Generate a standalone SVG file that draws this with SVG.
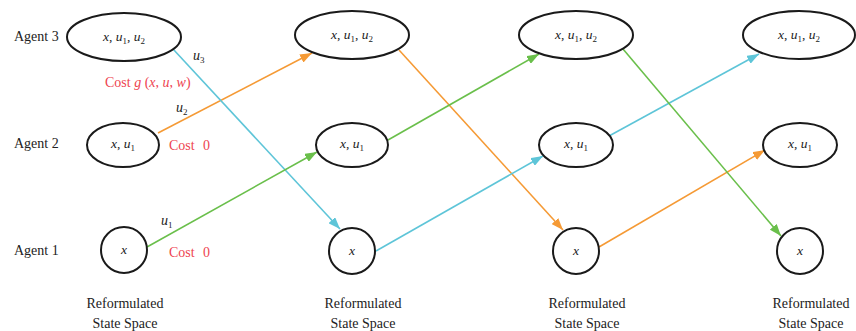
<svg xmlns="http://www.w3.org/2000/svg" width="856" height="331" viewBox="0 0 856 331">
  <style>
    .node { fill: #fff; stroke: #1a1a1a; stroke-width: 2; }
    .lbl { font-family: "Liberation Serif", "Times New Roman", serif; font-size: 14px; fill: #222; }
    .nt { font-family: "Liberation Serif", "Times New Roman", serif; font-size: 13.5px; fill: #222; text-anchor: middle; }
    .it { font-style: italic; }
    .sub { font-size: 9px; }
    .cost { font-family: "Liberation Serif", "Times New Roman", serif; font-size: 14px; fill: #EE4450; }
    .cap { font-family: "Liberation Serif", "Times New Roman", serif; font-size: 14px; fill: #222; text-anchor: middle; }
    .e { fill: none; stroke-width: 1.6; }
    .or { stroke: #F59A35; }
    .cy { stroke: #5EC5D8; }
    .gr { stroke: #6ABF4B; }
  </style>
  <defs>
    <marker id="aOr" viewBox="0 0 12 9" refX="12" refY="4.5" markerWidth="12" markerHeight="9" markerUnits="userSpaceOnUse" orient="auto">
      <path d="M0,0 L12,4.5 L0,9 Z" fill="#F59A35"/>
    </marker>
    <marker id="aCy" viewBox="0 0 12 9" refX="12" refY="4.5" markerWidth="12" markerHeight="9" markerUnits="userSpaceOnUse" orient="auto">
      <path d="M0,0 L12,4.5 L0,9 Z" fill="#5EC5D8"/>
    </marker>
    <marker id="aGr" viewBox="0 0 12 9" refX="12" refY="4.5" markerWidth="12" markerHeight="9" markerUnits="userSpaceOnUse" orient="auto">
      <path d="M0,0 L12,4.5 L0,9 Z" fill="#6ABF4B"/>
    </marker>
  </defs>

  <!-- row labels -->
  <text class="lbl" x="14" y="41">Agent 3</text>
  <text class="lbl" x="14" y="148">Agent 2</text>
  <text class="lbl" x="14" y="255">Agent 1</text>

  <!-- transitions -->
  <g id="connectors">
    <line class="e or" x1="158" y1="133" x2="312" y2="53" marker-end="url(#aOr)"/>
    <line class="e cy" x1="173" y1="49" x2="340" y2="229" marker-end="url(#aCy)"/>
    <line class="e gr" x1="147" y1="247" x2="317" y2="152" marker-end="url(#aGr)"/>

    <line class="e or" x1="399" y1="50" x2="563" y2="230" marker-end="url(#aOr)"/>
    <line class="e cy" x1="376" y1="251" x2="543" y2="156" marker-end="url(#aCy)"/>
    <line class="e gr" x1="388" y1="140" x2="539" y2="54" marker-end="url(#aGr)"/>

    <line class="e or" x1="599" y1="247" x2="765" y2="150" marker-end="url(#aOr)"/>
    <line class="e cy" x1="609" y1="136" x2="759" y2="54" marker-end="url(#aCy)"/>
    <line class="e gr" x1="623" y1="49" x2="781" y2="236" marker-end="url(#aGr)"/>
  </g>

  <!-- stage 1 -->
  <g id="s1-agent3">
    <ellipse class="node" cx="124" cy="37" rx="57" ry="24"/>
    <text class="nt" x="124" y="41"><tspan class="it">x</tspan>, <tspan class="it">u</tspan><tspan class="sub" dy="3">1</tspan><tspan dy="-3">, </tspan><tspan class="it">u</tspan><tspan class="sub" dy="3">2</tspan></text>
  </g>
  <g id="s1-agent2">
    <ellipse class="node" cx="123" cy="145" rx="36" ry="22"/>
    <text class="nt" x="123" y="148"><tspan class="it">x</tspan>, <tspan class="it">u</tspan><tspan class="sub" dy="3">1</tspan></text>
  </g>
  <g id="s1-agent1">
    <circle class="node" cx="124" cy="250" r="23"/>
    <text class="nt it" x="124" y="254">x</text>
  </g>

  <!-- stage 2 -->
  <g id="s2-agent3">
    <ellipse class="node" cx="352" cy="35" rx="57" ry="24"/>
    <text class="nt" x="352" y="39"><tspan class="it">x</tspan>, <tspan class="it">u</tspan><tspan class="sub" dy="3">1</tspan><tspan dy="-3">, </tspan><tspan class="it">u</tspan><tspan class="sub" dy="3">2</tspan></text>
  </g>
  <g id="s2-agent2">
    <ellipse class="node" cx="352" cy="145" rx="36" ry="22"/>
    <text class="nt" x="352" y="148"><tspan class="it">x</tspan>, <tspan class="it">u</tspan><tspan class="sub" dy="3">1</tspan></text>
  </g>
  <g id="s2-agent1">
    <circle class="node" cx="352" cy="251" r="23"/>
    <text class="nt it" x="352" y="255">x</text>
  </g>

  <!-- stage 3 -->
  <g id="s3-agent3">
    <ellipse class="node" cx="576" cy="35" rx="57" ry="24"/>
    <text class="nt" x="576" y="39"><tspan class="it">x</tspan>, <tspan class="it">u</tspan><tspan class="sub" dy="3">1</tspan><tspan dy="-3">, </tspan><tspan class="it">u</tspan><tspan class="sub" dy="3">2</tspan></text>
  </g>
  <g id="s3-agent2">
    <ellipse class="node" cx="576" cy="145" rx="37" ry="22"/>
    <text class="nt" x="576" y="148"><tspan class="it">x</tspan>, <tspan class="it">u</tspan><tspan class="sub" dy="3">1</tspan></text>
  </g>
  <g id="s3-agent1">
    <circle class="node" cx="576" cy="251" r="23"/>
    <text class="nt it" x="576" y="255">x</text>
  </g>

  <!-- stage 4 -->
  <g id="s4-agent3">
    <ellipse class="node" cx="799" cy="35" rx="56" ry="24"/>
    <text class="nt" x="799" y="39"><tspan class="it">x</tspan>, <tspan class="it">u</tspan><tspan class="sub" dy="3">1</tspan><tspan dy="-3">, </tspan><tspan class="it">u</tspan><tspan class="sub" dy="3">2</tspan></text>
  </g>
  <g id="s4-agent2">
    <ellipse class="node" cx="800" cy="145" rx="37" ry="22"/>
    <text class="nt" x="800" y="148"><tspan class="it">x</tspan>, <tspan class="it">u</tspan><tspan class="sub" dy="3">1</tspan></text>
  </g>
  <g id="s4-agent1">
    <circle class="node" cx="800" cy="251" r="23"/>
    <text class="nt it" x="800" y="255">x</text>
  </g>

  <!-- control / cost annotations -->
  <text class="lbl" x="193" y="60"><tspan class="it">u</tspan><tspan class="sub" dy="3">3</tspan></text>
  <text class="cost" x="105" y="87">Cost <tspan class="it">g</tspan> (<tspan class="it">x</tspan>, <tspan class="it">u</tspan>, <tspan class="it">w</tspan>)</text>
  <text class="lbl" x="176" y="112"><tspan class="it">u</tspan><tspan class="sub" dy="3">2</tspan></text>
  <text class="cost" x="169" y="150">Cost</text>
  <text class="cost" x="203" y="150">0</text>
  <text class="lbl" x="161" y="225"><tspan class="it">u</tspan><tspan class="sub" dy="3">1</tspan></text>
  <text class="cost" x="169" y="257">Cost</text>
  <text class="cost" x="203" y="257">0</text>

  <!-- column captions -->
  <text class="cap" x="125" y="308">Reformulated</text>
  <text class="cap" x="125" y="328">State Space</text>
  <text class="cap" x="363" y="308">Reformulated</text>
  <text class="cap" x="363" y="328">State Space</text>
  <text class="cap" x="587" y="308">Reformulated</text>
  <text class="cap" x="587" y="328">State Space</text>
  <text class="cap" x="811" y="308">Reformulated</text>
  <text class="cap" x="811" y="328">State Space</text>
</svg>
